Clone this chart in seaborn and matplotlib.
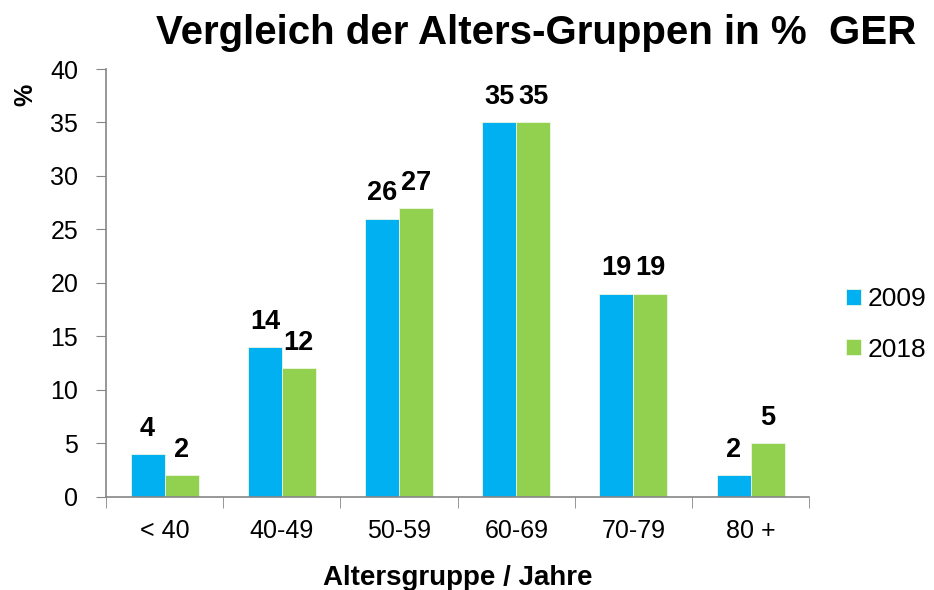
import matplotlib.pyplot as plt
import seaborn as sns
import pandas as pd
import numpy as np

# Data
groups = ['< 40', '40-49', '50-59', '60-69', '70-79', '80 +']
values_2009 = [4, 14, 26, 35, 19, 2]
values_2018 = [2, 12, 27, 35, 19, 5]
years = ['2009', '2018']
colors = ['#00B0F0', '#92D050']

df = pd.DataFrame({
    'Gruppe': groups * 2,
    'Wert': values_2009 + values_2018,
    'Jahr': [years[0]] * len(groups) + [years[1]] * len(groups),
})

sns.set_style("white")
plt.rcParams['font.family'] = ['Liberation Sans', 'DejaVu Sans']
plt.rcParams['text.color'] = 'black'
plt.rcParams['axes.labelcolor'] = 'black'
plt.rcParams['xtick.labelcolor'] = 'black'
plt.rcParams['ytick.labelcolor'] = 'black'

fig = plt.figure(figsize=(9.34, 5.90), dpi=100)
ax = fig.add_axes([0.1135, 0.158, 0.753, 0.725])

sns.barplot(
    data=df, x='Gruppe', y='Wert', hue='Jahr',
    palette=colors, saturation=1, width=0.58, gap=0, ax=ax,
    edgecolor='#eef7e4', linewidth=0.6, legend=True,
)

# value labels above each bar
for container in ax.containers:
    ax.bar_label(container, fmt='%d', padding=9, fontsize=19.5, fontweight='bold')

ax.set_xlim(-0.5, 5.5)
ax.set_ylim(0, 40)
ax.set_yticks(np.arange(0, 41, 5))
ax.tick_params(axis='y', labelsize=18, length=7, color='#868686', direction='out', left=True, pad=13)

# x ticks sit between the groups
ax.set_xticks(np.arange(-0.5, 6, 1), minor=True)
ax.tick_params(axis='x', which='minor', length=8, color='#868686', direction='out', bottom=True)
ax.tick_params(axis='x', which='major', length=0, labelsize=18, pad=16)

for side in ['top', 'right']:
    ax.spines[side].set_visible(False)
for side in ['left', 'bottom']:
    ax.spines[side].set_color('#868686')
    ax.spines[side].set_linewidth(1.2)

ax.set_xlabel('Altersgruppe / Jahre', fontsize=20, fontweight='bold', labelpad=16)
ax.set_ylabel('%', fontsize=18, fontweight='bold')
ax.yaxis.set_label_coords(-0.097, 0.94)

handles, labels = ax.get_legend_handles_labels()
ax.get_legend().remove()
fig.legend(handles, labels, loc='center left', bbox_to_anchor=(0.895, 0.45),
           frameon=False, fontsize=19, handlelength=0.55, handleheight=0.55,
           handletextpad=0.25, labelspacing=1.0, borderaxespad=0)

fig.text(0.574, 0.944, 'Vergleich der Alters-Gruppen in %  GER', ha='center', va='center',
         fontsize=29, fontweight='bold')

fig.savefig('out.png', dpi=100)
